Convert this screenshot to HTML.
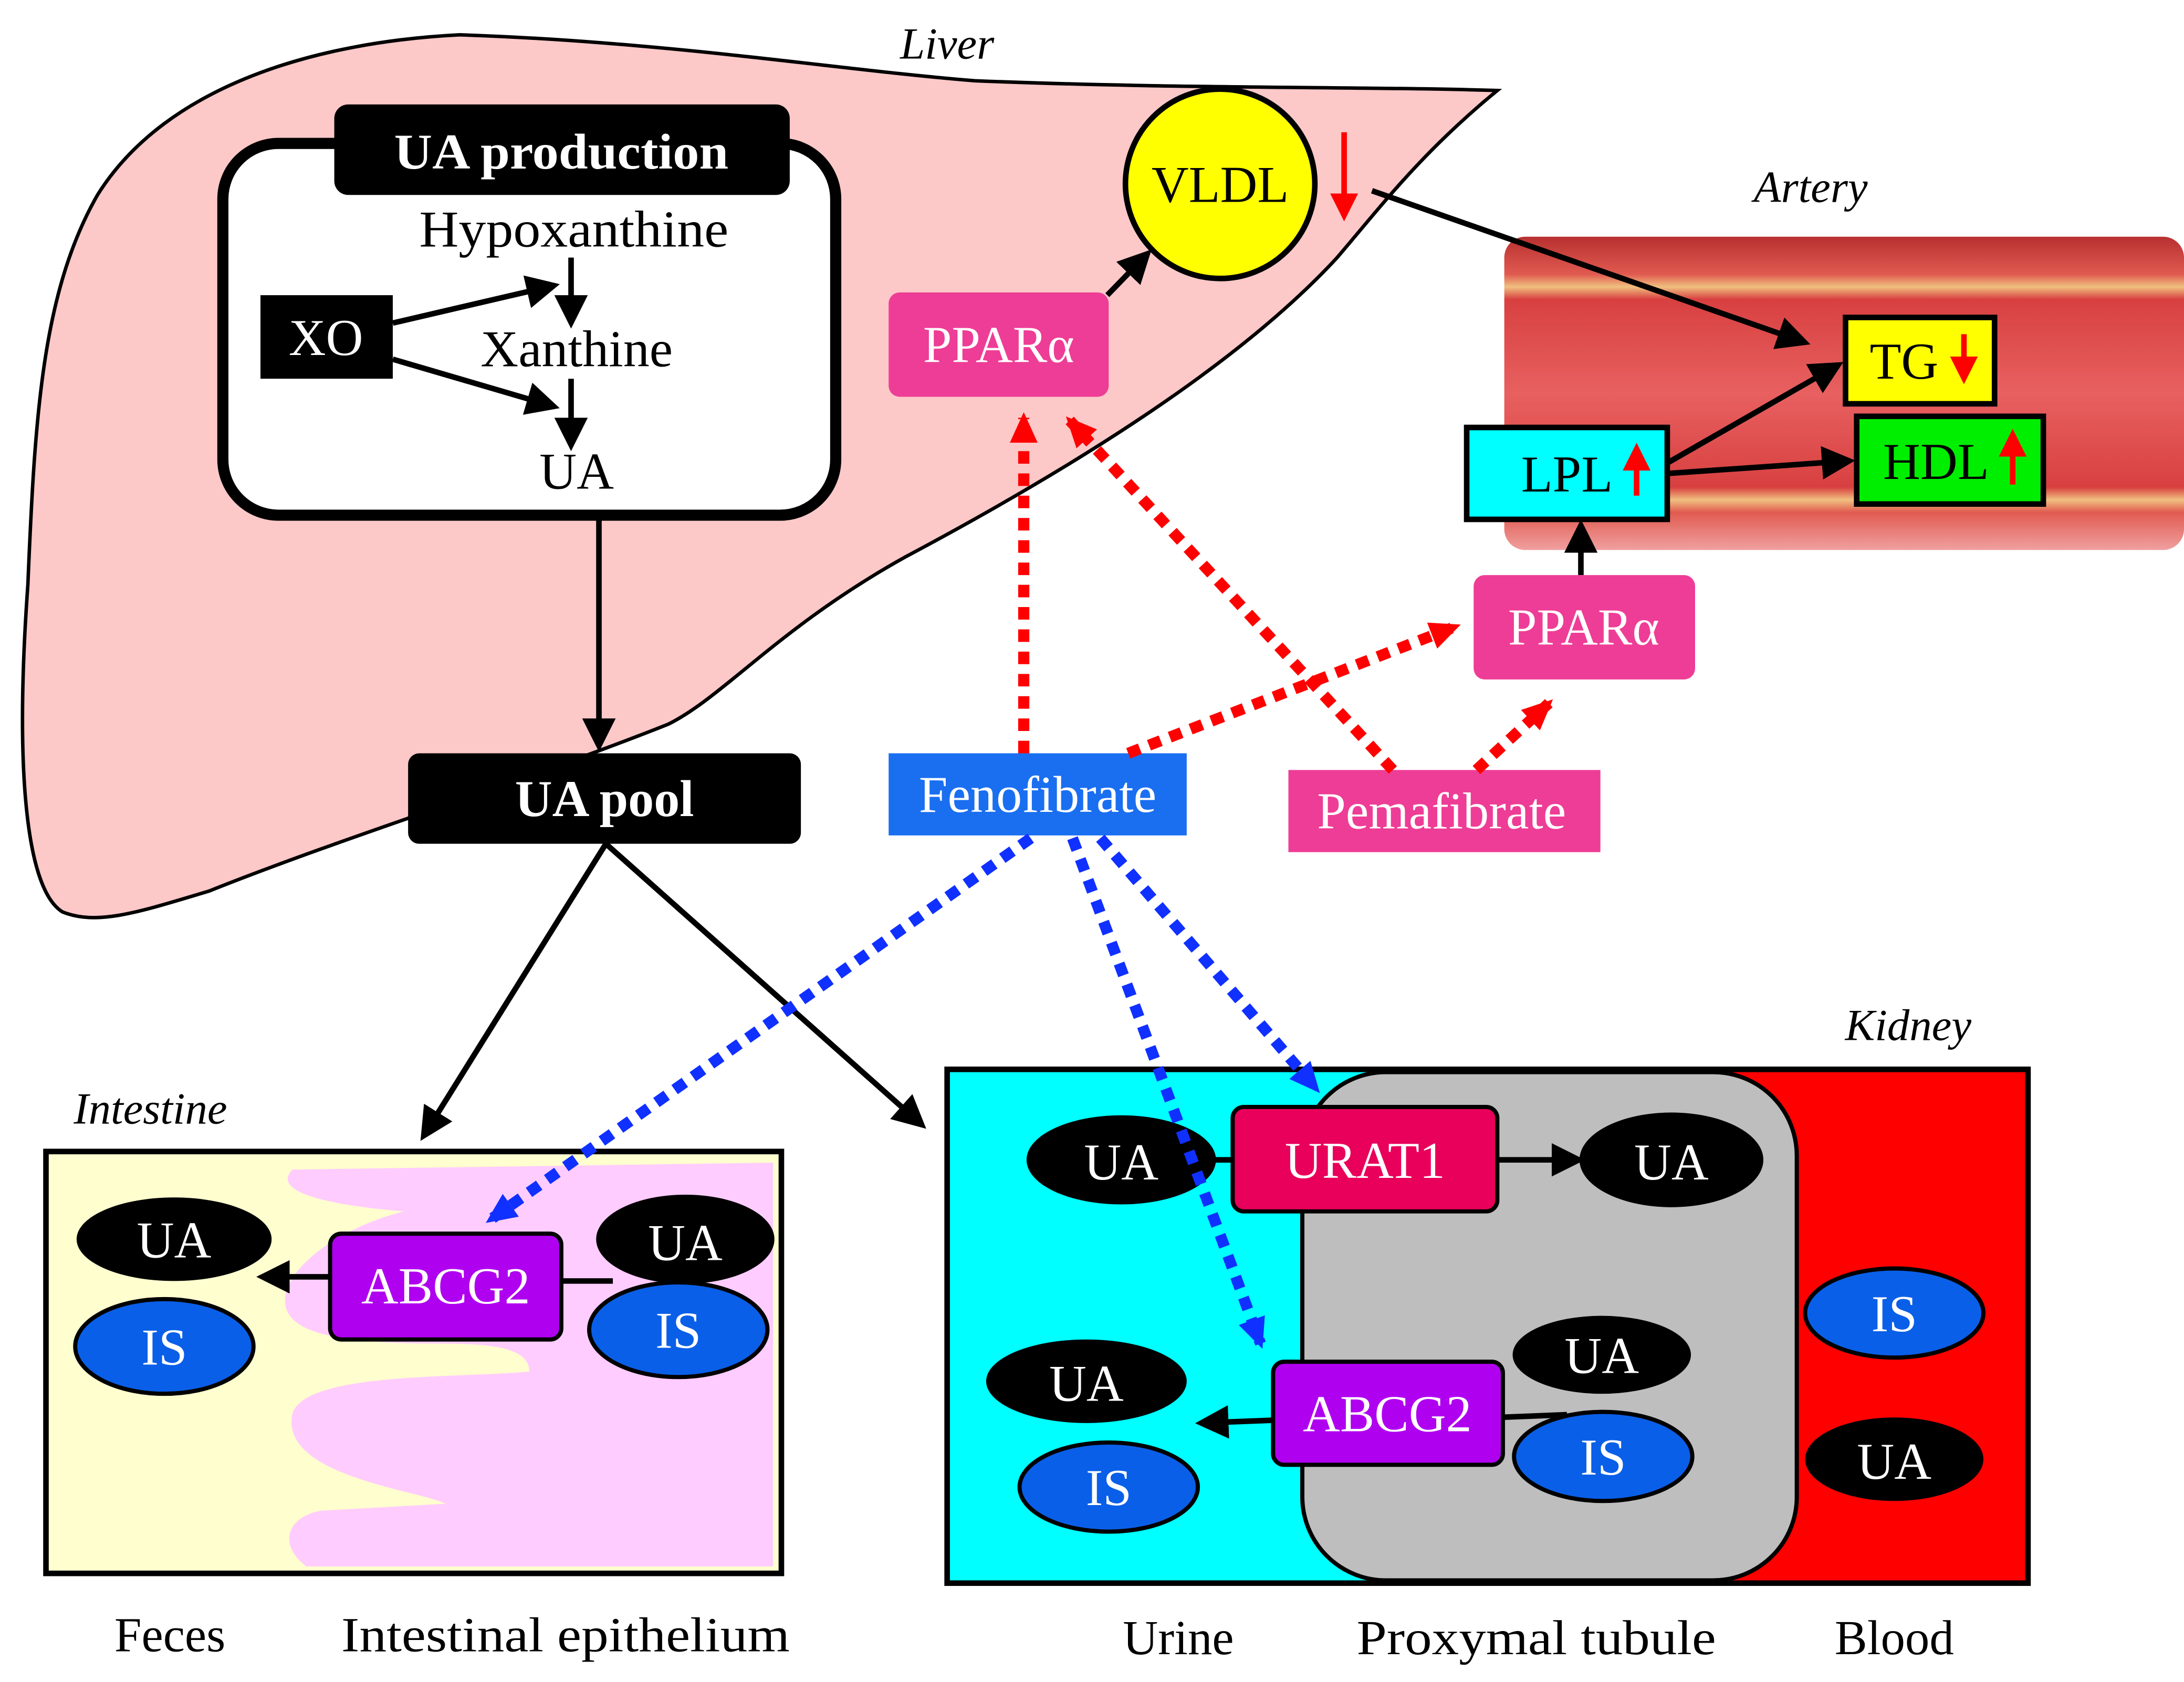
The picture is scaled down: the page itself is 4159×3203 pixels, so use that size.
<!DOCTYPE html>
<html><head><meta charset="utf-8"><style>html,body{margin:0;padding:0;background:#fff}svg{display:block}</style></head><body>
<svg width="4159" height="3203" viewBox="0 0 1568 1208" preserveAspectRatio="none" xmlns="http://www.w3.org/2000/svg" font-family="Liberation Serif, serif">
<defs>
<marker id="ak" markerWidth="6" markerHeight="6" refX="5" refY="3" orient="auto" markerUnits="strokeWidth"><path d="M0,0 L6,3 L0,6 z" fill="#000"/></marker>
<marker id="ar" markerWidth="5" markerHeight="5" refX="4" refY="2.5" orient="auto" markerUnits="strokeWidth"><path d="M0,0 L5,2.5 L0,5 z" fill="#f00"/></marker>
<marker id="ard" markerWidth="24" markerHeight="24" refX="18" refY="12" orient="auto" markerUnits="userSpaceOnUse"><path d="M0,2 L22,12 L0,22 z" fill="#f00"/></marker>
<marker id="abd" markerWidth="24" markerHeight="24" refX="18" refY="12" orient="auto" markerUnits="userSpaceOnUse"><path d="M0,2 L22,12 L0,22 z" fill="#1030ff"/></marker>
<linearGradient id="art" x1="0" y1="0" x2="0" y2="1">
<stop offset="0" stop-color="#b83030"/><stop offset="0.12" stop-color="#e05a50"/><stop offset="0.16" stop-color="#f0c080"/><stop offset="0.2" stop-color="#d84040"/><stop offset="0.5" stop-color="#e86060"/><stop offset="0.8" stop-color="#d84040"/><stop offset="0.84" stop-color="#f0c080"/><stop offset="0.88" stop-color="#e05a50"/><stop offset="1" stop-color="#f0a0a0"/></linearGradient>
</defs>
<!-- Liver -->
<path d="M45,655 C20,640 10,560 20,420 C25,300 30,210 70,140 C120,60 230,30 330,25 C480,30 600,50 700,58 C850,64 980,62 1075,65 C1020,110 990,150 960,185 C900,250 800,320 650,400 C560,450 520,500 480,520 C380,560 250,600 150,640 C100,655 70,665 45,655 Z" fill="#fcc8c8" stroke="#000" stroke-width="2.5"/>
<text x="680" y="42" font-size="32" font-style="italic" text-anchor="middle">Liver</text>
<!-- Artery -->
<rect x="1080" y="170" width="488" height="225" rx="15" fill="url(#art)"/>
<text x="1300" y="145" font-size="32" font-style="italic" text-anchor="middle">Artery</text>
<rect x="160" y="103" width="440" height="267" rx="40" fill="#fff" stroke="#000" stroke-width="8"/>
<rect x="240" y="75" width="327" height="65" rx="10" fill="#000"/>
<text x="403" y="121" font-size="36" font-weight="bold" fill="#fff" text-anchor="middle" textLength="240" lengthAdjust="spacingAndGlyphs">UA production</text>
<g font-size="37" text-anchor="middle">
<text x="412" y="177" textLength="222" lengthAdjust="spacingAndGlyphs">Hypoxanthine</text>
<text x="414" y="263" textLength="138" lengthAdjust="spacingAndGlyphs">Xanthine</text>
<text x="414" y="351">UA</text>
</g>
<rect x="187" y="212" width="95" height="60" fill="#000"/>
<text x="234" y="255" font-size="37" fill="#fff" text-anchor="middle">XO</text>
<rect x="293" y="541" width="282" height="65" rx="8" fill="#000"/>
<text x="434" y="586" font-size="37" font-weight="bold" fill="#fff" text-anchor="middle">UA pool</text>
<circle cx="876" cy="132" r="68" fill="#ffff00" stroke="#000" stroke-width="4"/>
<text x="876" y="145" font-size="37" text-anchor="middle">VLDL</text>
<line x1="965" y1="95" x2="965" y2="155" stroke="#f00" stroke-width="4" marker-end="url(#ar)"/>
<rect x="638" y="210" width="158" height="75" rx="8" fill="#ee3d96"/>
<text x="717" y="260" font-size="37" fill="#fff" text-anchor="middle">PPARα</text>
<g stroke="#000" stroke-width="4" fill="none" marker-end="url(#ak)">
<line x1="282" y1="232" x2="398" y2="205"/>
<line x1="282" y1="258" x2="398" y2="292"/>
<line x1="410" y1="185" x2="410" y2="232"/>
<line x1="410" y1="272" x2="410" y2="320"/>
<line x1="430" y1="372" x2="430" y2="536"/>
<line x1="435" y1="606" x2="304" y2="816"/>
<line x1="435" y1="606" x2="662" y2="808"/>
<line x1="795" y1="212" x2="824" y2="182"/>
<line x1="985" y1="137" x2="1296" y2="246"/>
<line x1="1198" y1="332" x2="1320" y2="262"/>
<line x1="1198" y1="340" x2="1328" y2="331"/>
<line x1="1135" y1="413" x2="1135" y2="377"/>
</g>
<rect x="1325" y="228" width="107" height="62" fill="#ffff00" stroke="#000" stroke-width="4"/>
<text x="1367" y="272" font-size="37" text-anchor="middle">TG</text>
<line x1="1410" y1="240" x2="1410" y2="272" stroke="#f00" stroke-width="4" marker-end="url(#ar)"/>
<rect x="1333" y="299" width="134" height="63" fill="#00ee00" stroke="#000" stroke-width="4"/>
<text x="1390" y="344" font-size="37" text-anchor="middle">HDL</text>
<line x1="1445" y1="348" x2="1445" y2="312" stroke="#f00" stroke-width="4" marker-end="url(#ar)"/>
<rect x="1053" y="307" width="144" height="66" fill="#00ffff" stroke="#000" stroke-width="4"/>
<text x="1125" y="353" font-size="37" text-anchor="middle">LPL</text>
<line x1="1175" y1="356" x2="1175" y2="322" stroke="#f00" stroke-width="4" marker-end="url(#ar)"/>
<rect x="1058" y="413" width="159" height="75" rx="8" fill="#ee3d96"/>
<text x="1137" y="463" font-size="37" fill="#fff" text-anchor="middle">PPARα</text>
<!-- Intestine -->
<text x="108" y="807" font-size="32" font-style="italic" text-anchor="middle">Intestine</text>
<rect x="33" y="827" width="528" height="303" fill="#fefecf"/>
<path d="M210,840 L555,835 L555,1125 L220,1125 C200,1110 205,1090 230,1085 L320,1080 C300,1070 200,1060 210,1015 C220,985 330,990 380,985 C380,970 360,965 320,965 C250,965 200,960 205,930 C210,905 250,880 290,870 C230,865 195,855 210,840 Z" fill="#ffccff"/>
<rect x="33" y="827" width="528" height="303" fill="none" stroke="#000" stroke-width="4"/>
<line x1="237" y1="917" x2="188" y2="917" stroke="#000" stroke-width="4" marker-end="url(#ak)"/>
<g font-size="37" text-anchor="middle">
<ellipse cx="125" cy="890" rx="70" ry="30" fill="#000"/><text x="125" y="903" fill="#fff">UA</text>
<ellipse cx="118" cy="967" rx="64" ry="34" fill="#0a5fe8" stroke="#000" stroke-width="3"/><text x="118" y="980" fill="#fff">IS</text>
<line x1="400" y1="920" x2="440" y2="920" stroke="#000" stroke-width="4"/>
<ellipse cx="492" cy="890" rx="64" ry="32" fill="#000"/><text x="492" y="905" fill="#fff">UA</text>
<ellipse cx="487" cy="955" rx="64" ry="34" fill="#0a5fe8" stroke="#000" stroke-width="3"/><text x="487" y="968" fill="#fff">IS</text>
<rect x="237" y="886" width="166" height="76" rx="8" fill="#b000f0" stroke="#000" stroke-width="3"/><text x="320" y="936" fill="#fff">ABCG2</text>
</g>
<!-- Kidney -->
<text x="1370" y="747" font-size="32" font-style="italic" text-anchor="middle">Kidney</text>
<rect x="680" y="768" width="776" height="369" fill="#00ffff"/>
<rect x="1240" y="768" width="216" height="369" fill="#ff0000"/>
<rect x="935" y="770" width="355" height="365" rx="60" fill="#bebebe" stroke="#000" stroke-width="3"/>
<rect x="680" y="768" width="776" height="369" fill="none" stroke="#000" stroke-width="4"/>
<g stroke="#000" stroke-width="4" fill="none" marker-end="url(#ak)">
<line x1="1075" y1="833" x2="1134" y2="833"/>
<line x1="914" y1="1020" x2="862" y2="1022"/>
</g>
<g font-size="37" text-anchor="middle">
<line x1="860" y1="833" x2="890" y2="833" stroke="#000" stroke-width="4"/>
<ellipse cx="805" cy="833" rx="68" ry="32" fill="#000"/><text x="805" y="847" fill="#fff">UA</text>
<rect x="885" y="795" width="190" height="75" rx="8" fill="#e8005a" stroke="#000" stroke-width="3"/><text x="980" y="846" fill="#fff">URAT1</text>
<ellipse cx="1200" cy="833" rx="66" ry="34" fill="#000"/><text x="1200" y="847" fill="#fff">UA</text>
<ellipse cx="780" cy="992" rx="72" ry="30" fill="#000"/><text x="780" y="1006" fill="#fff">UA</text>
<ellipse cx="796" cy="1068" rx="64" ry="32" fill="#0a5fe8" stroke="#000" stroke-width="3"/><text x="796" y="1081" fill="#fff">IS</text>
<line x1="1075" y1="1018" x2="1125" y2="1016" stroke="#000" stroke-width="4"/>
<ellipse cx="1150" cy="973" rx="64" ry="28" fill="#000"/><text x="1150" y="986" fill="#fff">UA</text>
<ellipse cx="1151" cy="1046" rx="64" ry="32" fill="#0a5fe8" stroke="#000" stroke-width="3"/><text x="1151" y="1059" fill="#fff">IS</text>
<rect x="914" y="978" width="165" height="74" rx="8" fill="#b000f0" stroke="#000" stroke-width="3"/><text x="996" y="1028" fill="#fff">ABCG2</text>
<ellipse cx="1360" cy="943" rx="64" ry="32" fill="#0a5fe8" stroke="#000" stroke-width="3"/><text x="1360" y="956" fill="#fff">IS</text>
<ellipse cx="1360" cy="1048" rx="64" ry="30" fill="#000"/><text x="1360" y="1062" fill="#fff">UA</text>
</g>
<!-- drugs -->
<rect x="638" y="541" width="214" height="59" fill="#1a6ff0"/>
<text x="745" y="583" font-size="37" fill="#fff" text-anchor="middle">Fenofibrate</text>
<rect x="925" y="553" width="224" height="59" fill="#ee3d96"/>
<text x="1035" y="595" font-size="37" fill="#fff" text-anchor="middle">Pemafibrate</text>
<g stroke="#f00" stroke-width="8" stroke-dasharray="9,7" fill="none" marker-end="url(#ard)">
<line x1="735" y1="541" x2="735" y2="300"/>
<line x1="810" y1="541" x2="1045" y2="450"/>
<line x1="1000" y1="553" x2="768" y2="302"/>
<line x1="1060" y1="553" x2="1112" y2="505"/>
</g>
<g stroke="#1030ff" stroke-width="8" stroke-dasharray="9,7" fill="none" marker-end="url(#abd)">
<line x1="740" y1="602" x2="352" y2="876"/>
<line x1="770" y1="602" x2="905" y2="965"/>
<line x1="790" y1="602" x2="945" y2="782"/>
</g>
<g font-size="35" text-anchor="middle">
<text x="122" y="1186">Feces</text>
<text x="406" y="1186" textLength="322" lengthAdjust="spacingAndGlyphs">Intestinal epithelium</text>
<text x="846" y="1188">Urine</text>
<text x="1103" y="1188" textLength="258" lengthAdjust="spacingAndGlyphs">Proxymal tubule</text>
<text x="1360" y="1188">Blood</text>
</g>
</svg>
</body></html>
